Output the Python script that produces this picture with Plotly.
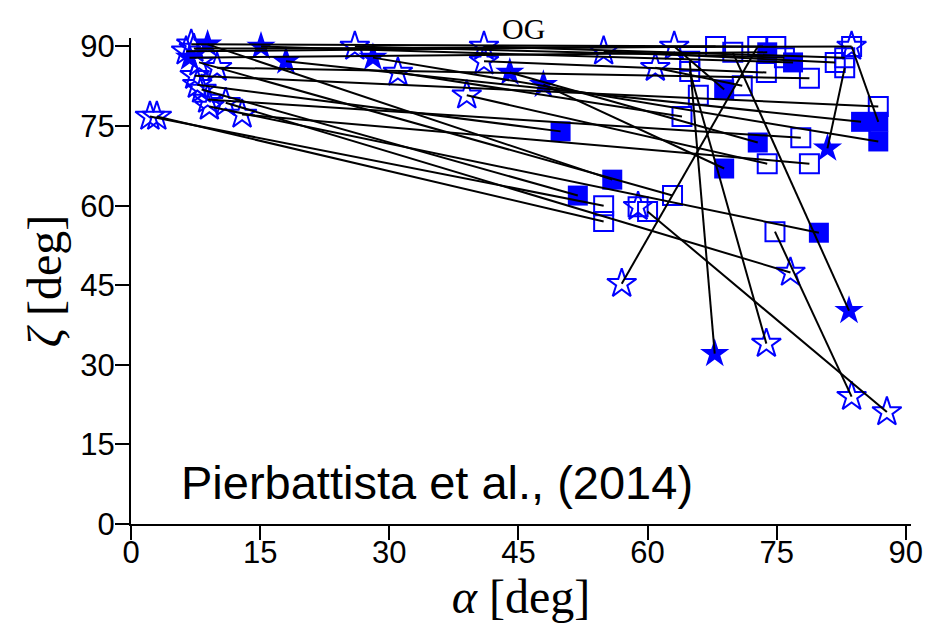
import plotly.graph_objects as go

# Each pair: start marker (alpha, zeta, kind) joined by a line to end marker
alpha_start = [2.2, 3.0, 7.0, 8.9, 6.4, 6.8, 7.9, 10.0, 7.7, 8.2, 8.9, 9.1, 11.0, 12.9,
               15.1, 18.0, 28.1, 44.0, 47.9, 26.0, 31.0, 39.0, 41.0, 41.0, 54.9, 60.9,
               63.1, 57.0, 67.8, 73.8, 83.7, 87.8, 80.9, 83.4, 83.7, 58.9, 7.4, 7.3]
zeta_start = [76.8, 76.8, 90.4, 90.4, 89.1, 87.9, 87.0, 86.0, 82.8, 81.9, 80.0, 78.7, 79.4, 77.2,
              90.0, 87.2, 87.9, 85.1, 82.8, 90.0, 85.1, 80.8, 90.0, 87.2, 89.1, 86.0,
              90.0, 45.3, 32.1, 34.0, 24.0, 21.1, 70.8, 40.2, 90.0, 59.8, 84.5, 89.6]
kind_start = ["star-open", "star-open", "star-open", "star", "star-open", "star", "star-open",
              "star-open", "star-open", "star-open", "star-open", "star-open", "star-open",
              "star-open", "star", "star", "star", "star", "star", "star-open", "star-open",
              "star-open", "star-open", "star-open", "star-open", "star-open", "star-open",
              "star-open", "star", "star-open", "star-open", "star-open", "star", "star",
              "star-open", "star-open", "star-open", "star-open"]

alpha_end = [54.9, 54.9, 74.9, 55.9, 67.9, 73.9, 62.9, 78.8, 49.9, 51.9, 77.8, 79.9, 76.6, 78.8,
             76.9, 84.8, 86.8, 72.8, 68.9, 75.9, 64.0, 73.9, 82.9, 73.8, 81.8, 71.0,
             68.9, 72.8, 64.9, 64.9, 74.8, 60.0, 82.9, 69.9, 86.8, 58.9, 86.8, 83.7]
zeta_end = [60.0, 57.0, 90.0, 64.9, 90.0, 88.9, 61.9, 84.0, 74.0, 61.9, 72.8, 54.9, 47.4, 67.9,
            87.0, 75.8, 72.1, 71.9, 67.0, 87.9, 76.8, 67.9, 87.9, 85.1, 87.0, 82.6,
            81.9, 90.0, 87.2, 85.3, 55.1, 58.9, 86.0, 88.9, 75.8, 59.8, 78.7, 90.0]
kind_end = ["square-open", "square-open", "square-open", "square", "square-open", "square",
            "square-open", "square-open", "square", "square", "square-open", "square",
            "star-open", "square-open", "square", "square", "square", "square", "square",
            "square-open", "square-open", "square-open", "square-open", "square-open",
            "square-open", "square-open", "square", "square-open", "square-open",
            "square-open", "square-open", "square-open", "square-open", "square-open",
            "square", "square-open", "square-open", "square-open"]

# extra open square (stacked) without visible partner line
extra_sq_alpha = [65.9]
extra_sq_zeta = [80.8]

tick_vals = [0, 15, 30, 45, 60, 75, 90]
tick_text = ["0", "15", "30", "45", "60", "75", "90"]

BLUE = "#0000ff"
sizes = {"star": 22, "star-open": 22, "square": 20, "square-open": 19}

fig = go.Figure()

pts = {k: ([], []) for k in sizes}
for a, z, k in zip(alpha_start, zeta_start, kind_start):
    pts[k][0].append(a); pts[k][1].append(z)
for a, z, k in zip(alpha_end, zeta_end, kind_end):
    pts[k][0].append(a); pts[k][1].append(z)
for a, z in zip(extra_sq_alpha, extra_sq_zeta):
    pts["square-open"][0].append(a); pts["square-open"][1].append(z)

for k in ["square-open", "star-open", "square", "star"]:
    xs, ys = pts[k]
    fig.add_trace(go.Scatter(
        x=xs, y=ys, mode="markers", showlegend=False, hoverinfo="skip",
        marker=dict(symbol=k, size=sizes[k], color=BLUE,
                    line=dict(color=BLUE, width=2 if "open" in k else 0)),
        cliponaxis=False,
    ))

lx, ly = [], []
for a1, z1, a2, z2 in zip(alpha_start, zeta_start, alpha_end, zeta_end):
    lx += [a1, a2, None]
    ly += [z1, z2, None]
fig.add_trace(go.Scatter(x=lx, y=ly, mode="lines", showlegend=False, hoverinfo="skip",
                         line=dict(color="black", width=2), cliponaxis=False))

fig.add_annotation(x=0.503, y=1.02, xref="paper", yref="paper", text="OG",
                   showarrow=False, yanchor="middle",
                   font=dict(family="Liberation Serif", size=30, color="black"))
fig.add_annotation(x=5.6, y=7.9, xref="x", yref="y", text="Pierbattista et al., (2014)",
                   showarrow=False, xanchor="left", yanchor="middle",
                   font=dict(family="Liberation Sans", size=47, color="black"))

axis_common = dict(
    showline=True, linecolor="black", linewidth=2, mirror=False,
    ticks="outside", ticklen=14, tickwidth=2, tickcolor="black",
    showgrid=False, zeroline=False,
    tickvals=tick_vals, ticktext=tick_text,
    tickfont=dict(family="Liberation Sans", size=31, color="black"),
)

fig.update_layout(
    width=935, height=641,
    margin=dict(l=131, r=17, t=38, b=117),
    plot_bgcolor="white", paper_bgcolor="white",
    xaxis=dict(range=[0, 90.6], ticklabelstandoff=-14,
               title=dict(text="<i>α</i> [deg]", standoff=0,
                          font=dict(family="Liberation Serif", size=48, color="black")),
               **axis_common),
    yaxis=dict(range=[0, 91.6], ticklabelstandoff=-6,
               title=dict(text="<i>ζ</i> [deg]", standoff=4,
                          font=dict(family="Liberation Serif", size=48, color="black")),
               **axis_common),
)

fig.write_html("out.html")
